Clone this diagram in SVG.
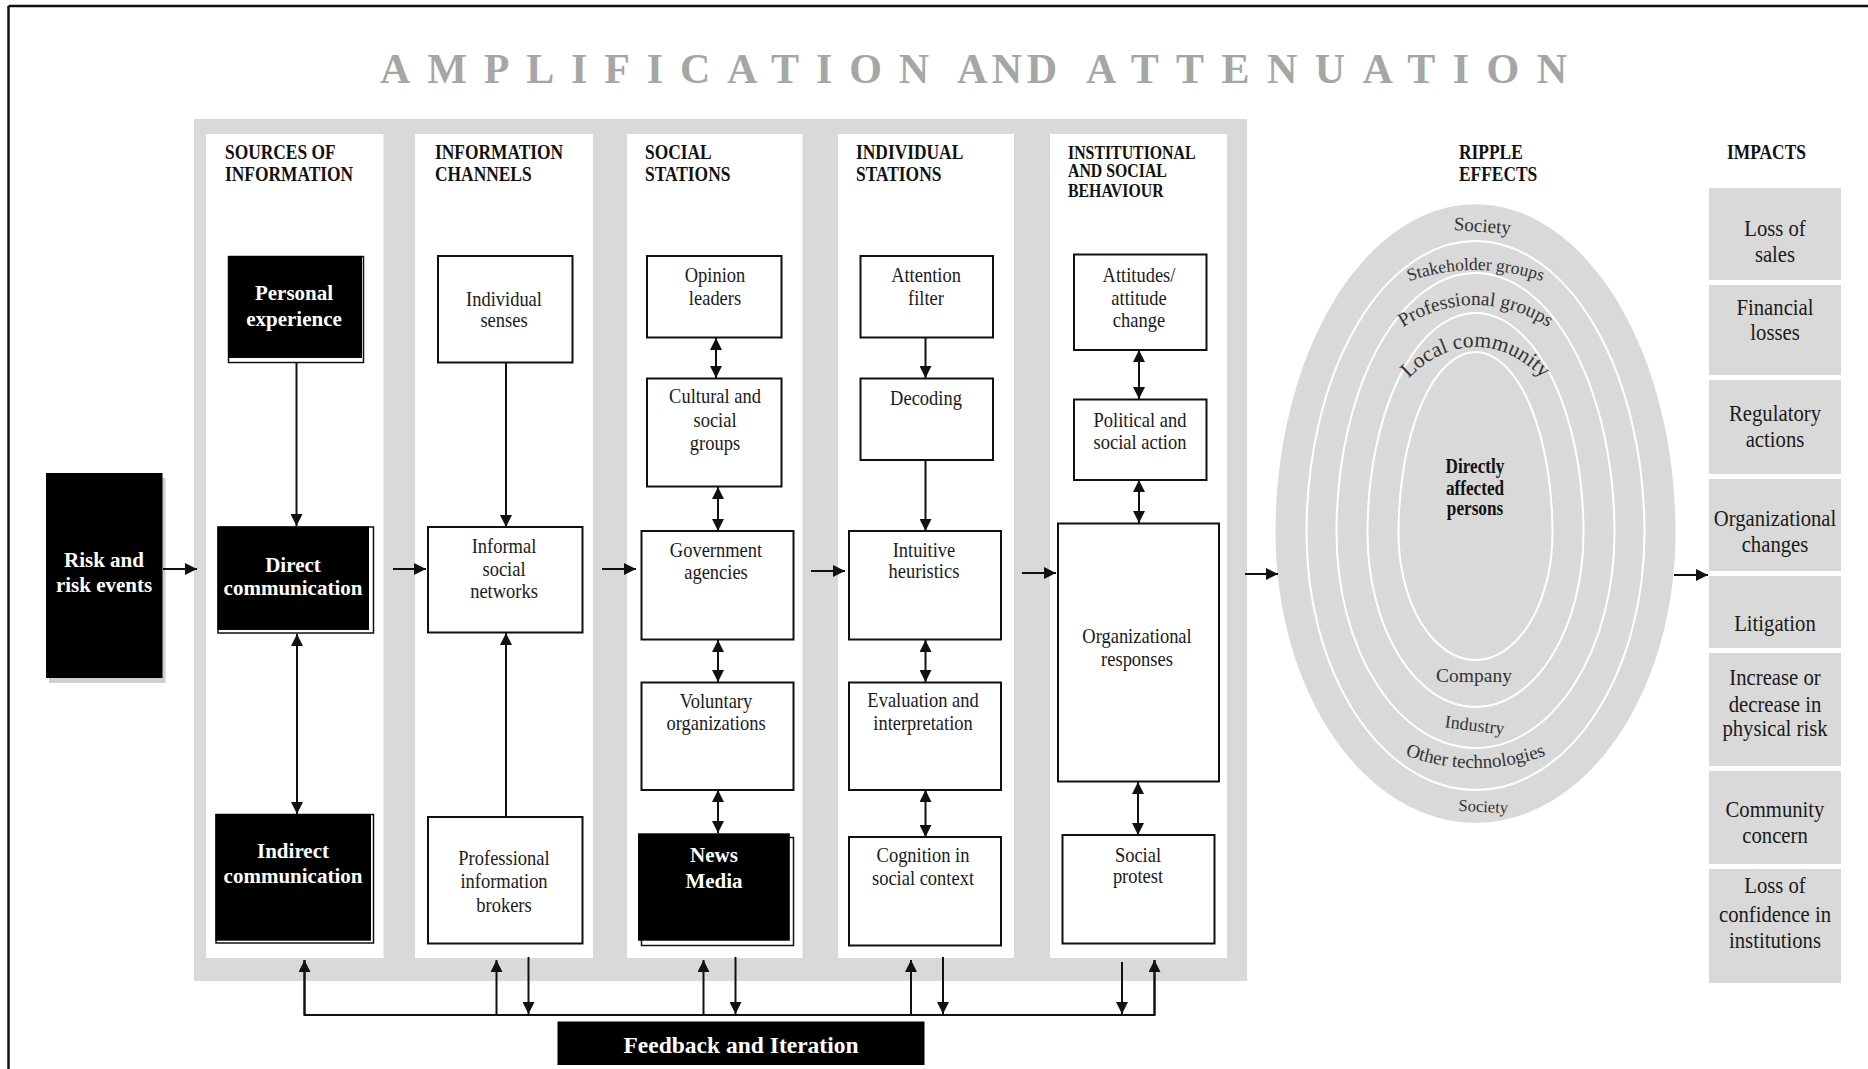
<svg xmlns="http://www.w3.org/2000/svg" width="1868" height="1069" viewBox="0 0 1868 1069">
<style>
.t{font-family:"Liberation Serif","Times New Roman",serif}
.ttl{font-weight:bold;font-size:42px;fill:#a6a6a6}
.hd{font-weight:bold;font-size:20px;fill:#111}
.hs{font-weight:bold;font-size:18px;fill:#111}
.bx{font-size:21px;fill:#1a1a1a;text-anchor:middle}
.bk{font-weight:bold;font-size:21px;fill:#fff;text-anchor:middle}
.im{font-size:23px;fill:#1a1a1a;text-anchor:middle}
.rg{fill:#333;text-anchor:middle}
.dp{font-weight:bold;font-size:20px;fill:#111;text-anchor:middle}
.wb{fill:#fff;stroke:#111;stroke-width:2}
.ol{fill:#fff;stroke:#111;stroke-width:1.5}
.blk{fill:#000}
.ib{fill:#d9d9d9}
.ring{fill:none;stroke:#fff;stroke-width:2}
</style>
<defs>
<marker id="ah" viewBox="0 0 10 10" refX="10" refY="5" markerWidth="12" markerHeight="12" markerUnits="userSpaceOnUse" orient="auto-start-reverse"><path d="M0,0 L10,5 L0,10 z" fill="#111"/></marker>
<path id="pStk" d="M1245.5,533 A230,263 0 0 1 1705.5,533"/>
<path id="pPro" d="M1306.5,533 A169,228 0 0 1 1644.5,533"/>
<path id="pLoc" d="M1355.5,533 A120,186 0 0 1 1595.5,533"/>
<path id="pOth" d="M1259.5,533 A216,235 0 0 0 1691.5,533"/>
</defs>
<rect width="1868" height="1069" fill="#fff"/>
<g id="frame" stroke="#111" stroke-width="2.5">
<line x1="8.5" y1="6" x2="1868" y2="6"/>
<line x1="8.5" y1="6" x2="8.5" y2="1069"/>
</g>
<g id="title" class="t">
<text class="t ttl" x="380" y="83" textLength="549" lengthAdjust="spacing">AMPLIFICATION</text>
<text class="t ttl" x="957" y="83" textLength="100" lengthAdjust="spacing">AND</text>
<text class="t ttl" x="1086" y="83" textLength="481" lengthAdjust="spacing">ATTENUATION</text>
</g>
<g id="panel">
<rect x="194" y="119" width="1053" height="862" fill="#d9d9d9"/>
<rect x="206" y="134" width="177.5" height="824" fill="#fff"/>
<rect x="415" y="134" width="178" height="824" fill="#fff"/>
<rect x="627" y="134" width="175.5" height="824" fill="#fff"/>
<rect x="838" y="134" width="176" height="824" fill="#fff"/>
<rect x="1050" y="134" width="177" height="824" fill="#fff"/>
</g>
<g id="headers">
<text class="t hd" transform="matrix(.87 0 0 1 225 0)"><tspan x="0" y="159">SOURCES OF</tspan><tspan x="0" y="181">INFORMATION</tspan></text>
<text class="t hd" transform="matrix(.87 0 0 1 435 0)"><tspan x="0" y="159">INFORMATION</tspan><tspan x="0" y="181">CHANNELS</tspan></text>
<text class="t hd" transform="matrix(.87 0 0 1 645 0)"><tspan x="0" y="159">SOCIAL</tspan><tspan x="0" y="181">STATIONS</tspan></text>
<text class="t hd" transform="matrix(.87 0 0 1 856 0)"><tspan x="0" y="159">INDIVIDUAL</tspan><tspan x="0" y="181">STATIONS</tspan></text>
<text class="t hs" transform="matrix(.88 0 0 1 1068 0)"><tspan x="0" y="159">INSTITUTIONAL</tspan><tspan x="0" y="177">AND SOCIAL</tspan><tspan x="0" y="197">BEHAVIOUR</tspan></text>
<text class="t hd" transform="matrix(.87 0 0 1 1459 0)"><tspan x="0" y="159">RIPPLE</tspan><tspan x="0" y="181">EFFECTS</tspan></text>
<text class="t hd" transform="matrix(.87 0 0 1 1727 0)"><tspan x="0" y="159">IMPACTS</tspan></text>
</g>
<g id="risk">
<rect x="49" y="478" width="116.5" height="205" fill="#cfcfcf"/>
<rect class="blk" x="46" y="473" width="116.5" height="205"/>
<text class="t bk"><tspan x="104" y="567">Risk and</tspan><tspan x="104" y="592">risk events</tspan></text>
</g>
<g id="personal">
<rect class="ol" x="228.5" y="256.5" width="135" height="106"/>
<rect class="blk" x="228" y="256" width="134" height="102"/>
<text class="t bk"><tspan x="294" y="300">Personal</tspan><tspan x="294" y="326">experience</tspan></text>
</g>
<g id="direct">
<rect class="ol" x="218" y="527" width="155.5" height="106"/>
<rect class="blk" x="217.5" y="526.5" width="151.5" height="103.5"/>
<text class="t bk"><tspan x="293" y="572">Direct</tspan><tspan x="293" y="595">communication</tspan></text>
</g>
<g id="indirect">
<rect class="ol" x="216" y="814.5" width="157.5" height="128.5"/>
<rect class="blk" x="215.5" y="814" width="155.5" height="126.7"/>
<text class="t bk"><tspan x="293" y="858">Indirect</tspan><tspan x="293" y="883">communication</tspan></text>
</g>
<g id="senses">
<rect class="wb" x="438" y="256" width="134.5" height="106.5"/>
<text class="t bx" transform="matrix(.88 0 0 1 504 0)"><tspan x="0" y="306">Individual</tspan><tspan x="0" y="327">senses</tspan></text>
</g>
<g id="informal">
<rect class="wb" x="428" y="527" width="154.5" height="105.5"/>
<text class="t bx" transform="matrix(.88 0 0 1 504 0)"><tspan x="0" y="553">Informal</tspan><tspan x="0" y="576">social</tspan><tspan x="0" y="598">networks</tspan></text>
</g>
<g id="brokers">
<rect class="wb" x="428" y="817" width="154.5" height="126.5"/>
<text class="t bx" transform="matrix(.88 0 0 1 504 0)"><tspan x="0" y="865">Professional</tspan><tspan x="0" y="888">information</tspan><tspan x="0" y="912">brokers</tspan></text>
</g>
<g id="opinion">
<rect class="wb" x="647" y="256" width="134.5" height="81.5"/>
<text class="t bx" transform="matrix(.88 0 0 1 715 0)"><tspan x="0" y="282">Opinion</tspan><tspan x="0" y="305">leaders</tspan></text>
</g>
<g id="cultural">
<rect class="wb" x="647" y="378.5" width="134.5" height="108"/>
<text class="t bx" transform="matrix(.88 0 0 1 715 0)"><tspan x="0" y="403">Cultural and</tspan><tspan x="0" y="427">social</tspan><tspan x="0" y="450">groups</tspan></text>
</g>
<g id="government">
<rect class="wb" x="641.5" y="531" width="152" height="108.5"/>
<text class="t bx" transform="matrix(.88 0 0 1 716 0)"><tspan x="0" y="557">Government</tspan><tspan x="0" y="579">agencies</tspan></text>
</g>
<g id="voluntary">
<rect class="wb" x="641.5" y="682.5" width="152" height="107.5"/>
<text class="t bx" transform="matrix(.88 0 0 1 716 0)"><tspan x="0" y="708">Voluntary</tspan><tspan x="0" y="730">organizations</tspan></text>
</g>
<g id="news">
<rect class="ol" x="641.5" y="837.5" width="152" height="108"/>
<rect class="blk" x="638" y="833.3" width="151.8" height="107.4"/>
<text class="t bk"><tspan x="714" y="862">News</tspan><tspan x="714" y="888">Media</tspan></text>
</g>
<g id="attention">
<rect class="wb" x="860.5" y="256" width="132.5" height="81.5"/>
<text class="t bx" transform="matrix(.88 0 0 1 926 0)"><tspan x="0" y="282">Attention</tspan><tspan x="0" y="305">filter</tspan></text>
</g>
<g id="decoding">
<rect class="wb" x="860.5" y="378.5" width="132.5" height="81.5"/>
<text class="t bx" transform="matrix(.88 0 0 1 926 0)"><tspan x="0" y="405">Decoding</tspan></text>
</g>
<g id="intuitive">
<rect class="wb" x="849" y="531" width="152" height="108.5"/>
<text class="t bx" transform="matrix(.88 0 0 1 924 0)"><tspan x="0" y="557">Intuitive</tspan><tspan x="0" y="578">heuristics</tspan></text>
</g>
<g id="evaluation">
<rect class="wb" x="849" y="682.5" width="152" height="107.5"/>
<text class="t bx" transform="matrix(.88 0 0 1 923 0)"><tspan x="0" y="707">Evaluation and</tspan><tspan x="0" y="730">interpretation</tspan></text>
</g>
<g id="cognition">
<rect class="wb" x="849" y="837" width="152" height="108.5"/>
<text class="t bx" transform="matrix(.88 0 0 1 923 0)"><tspan x="0" y="862">Cognition in</tspan><tspan x="0" y="885">social context</tspan></text>
</g>
<g id="attitudes">
<rect class="wb" x="1074" y="254.5" width="132.5" height="95.5"/>
<text class="t bx" transform="matrix(.88 0 0 1 1139 0)"><tspan x="0" y="282">Attitudes/</tspan><tspan x="0" y="305">attitude</tspan><tspan x="0" y="327">change</tspan></text>
</g>
<g id="political">
<rect class="wb" x="1074" y="399.5" width="132.5" height="80.5"/>
<text class="t bx" transform="matrix(.88 0 0 1 1140 0)"><tspan x="0" y="427">Political and</tspan><tspan x="0" y="449">social action</tspan></text>
</g>
<g id="organizational">
<rect class="wb" x="1058" y="523.5" width="161" height="258"/>
<text class="t bx" transform="matrix(.88 0 0 1 1137 0)"><tspan x="0" y="643">Organizational</tspan><tspan x="0" y="666">responses</tspan></text>
</g>
<g id="protest">
<rect class="wb" x="1062.5" y="835" width="152" height="108.5"/>
<text class="t bx" transform="matrix(.88 0 0 1 1138 0)"><tspan x="0" y="862">Social</tspan><tspan x="0" y="883">protest</tspan></text>
</g>
<g id="ripple">
<path d="M1275.5,533 A200,329 0 0 1 1675.5,533 A200,290 0 0 1 1275.5,533Z" fill="#d9d9d9"/>
<path class="ring" d="M1306.5,533 A169,292 0 0 1 1644.5,533 A169,257 0 0 1 1306.5,533Z"/>
<path class="ring" d="M1336.5,533 A139,260 0 0 1 1614.5,533 A139,215 0 0 1 1336.5,533Z"/>
<path class="ring" d="M1367.5,533 A108,220 0 0 1 1583.5,533 A108,174 0 0 1 1367.5,533Z"/>
<path class="ring" d="M1398.5,533 A77,181 0 0 1 1552.5,533 A77,127 0 0 1 1398.5,533Z"/>
<text class="t rg" font-size="19" transform="rotate(4 1482 232)" x="1482" y="232">Society</text>
<text class="t rg" font-size="17.5"><textPath href="#pStk" startOffset="50%">Stakeholder groups</textPath></text>
<text class="t rg" font-size="19.5"><textPath href="#pPro" startOffset="50%">Professional groups</textPath></text>
<text class="t rg" font-size="21.5"><textPath href="#pLoc" startOffset="50%">Local community</textPath></text>
<text class="t dp" transform="matrix(.86 0 0 1 1475 0)"><tspan x="0" y="473">Directly</tspan><tspan x="0" y="495">affected</tspan><tspan x="0" y="515">persons</tspan></text>
<text class="t rg" font-size="19.5" x="1474" y="682">Company</text>
<text class="t rg" font-size="18" transform="rotate(7 1474 731)" x="1474" y="731">Industry</text>
<text class="t rg" font-size="19"><textPath href="#pOth" startOffset="50%">Other technologies</textPath></text>
<text class="t rg" font-size="16.5" transform="rotate(3 1483 812)" x="1483" y="812">Society</text>
</g>
<g id="impacts">
<rect class="ib" x="1709" y="188" width="132" height="92"/>
<rect class="ib" x="1709" y="285" width="132" height="90"/>
<rect class="ib" x="1709" y="380" width="132" height="94"/>
<rect class="ib" x="1709" y="479" width="132" height="92"/>
<rect class="ib" x="1709" y="576" width="132" height="72"/>
<rect class="ib" x="1709" y="653" width="132" height="113"/>
<rect class="ib" x="1709" y="771" width="132" height="93"/>
<rect class="ib" x="1709" y="869" width="132" height="114"/>
<text class="t im" transform="matrix(.9 0 0 1 1775 0)"><tspan x="0" y="236">Loss of</tspan><tspan x="0" y="262">sales</tspan><tspan x="0" y="315">Financial</tspan><tspan x="0" y="340">losses</tspan><tspan x="0" y="421">Regulatory</tspan><tspan x="0" y="447">actions</tspan><tspan x="0" y="526">Organizational</tspan><tspan x="0" y="552">changes</tspan><tspan x="0" y="631">Litigation</tspan><tspan x="0" y="685">Increase or</tspan><tspan x="0" y="712">decrease in</tspan><tspan x="0" y="736">physical risk</tspan><tspan x="0" y="817">Community</tspan><tspan x="0" y="843">concern</tspan><tspan x="0" y="893">Loss of</tspan><tspan x="0" y="922">confidence in</tspan><tspan x="0" y="948">institutions</tspan></text>
</g>
<g id="feedback">
<rect class="blk" x="557.5" y="1021.5" width="367" height="43.5"/>
<text class="t" x="741" y="1053" font-weight="bold" font-size="23.5" fill="#fff" text-anchor="middle">Feedback and Iteration</text>
</g>
<g id="connectors" stroke="#111" stroke-width="2" fill="none">
<line x1="163" y1="569" x2="197" y2="569" marker-end="url(#ah)"/>
<line x1="393" y1="569" x2="426" y2="569" marker-end="url(#ah)"/>
<line x1="602" y1="569" x2="636" y2="569" marker-end="url(#ah)"/>
<line x1="811" y1="571" x2="845" y2="571" marker-end="url(#ah)"/>
<line x1="1022" y1="573" x2="1056" y2="573" marker-end="url(#ah)"/>
<line x1="1245" y1="574" x2="1278" y2="574" marker-end="url(#ah)"/>
<line x1="1674" y1="575" x2="1708" y2="575" marker-end="url(#ah)"/>
<line x1="296.5" y1="363" x2="296.5" y2="526" marker-end="url(#ah)"/>
<line x1="297" y1="634" x2="297" y2="814" marker-start="url(#ah)" marker-end="url(#ah)"/>
<line x1="506" y1="363" x2="506" y2="527" marker-end="url(#ah)"/>
<line x1="506" y1="817" x2="506" y2="633" marker-end="url(#ah)"/>
<line x1="716" y1="338" x2="716" y2="378" marker-start="url(#ah)" marker-end="url(#ah)"/>
<line x1="718" y1="487" x2="718" y2="531" marker-start="url(#ah)" marker-end="url(#ah)"/>
<line x1="718" y1="640" x2="718" y2="682" marker-start="url(#ah)" marker-end="url(#ah)"/>
<line x1="718" y1="790" x2="718" y2="833" marker-start="url(#ah)" marker-end="url(#ah)"/>
<line x1="925.5" y1="338" x2="925.5" y2="378" marker-end="url(#ah)"/>
<line x1="925.5" y1="460" x2="925.5" y2="531" marker-end="url(#ah)"/>
<line x1="925.5" y1="640" x2="925.5" y2="682" marker-start="url(#ah)" marker-end="url(#ah)"/>
<line x1="925.5" y1="790" x2="925.5" y2="837" marker-start="url(#ah)" marker-end="url(#ah)"/>
<line x1="1139" y1="350" x2="1139" y2="399" marker-start="url(#ah)" marker-end="url(#ah)"/>
<line x1="1139" y1="480" x2="1139" y2="523" marker-start="url(#ah)" marker-end="url(#ah)"/>
<line x1="1138" y1="782" x2="1138" y2="835" marker-start="url(#ah)" marker-end="url(#ah)"/>
<polyline points="304.5,960 304.5,1015 1154.5,1015 1154.5,960"/>
<line x1="304.5" y1="1015" x2="304.5" y2="960" marker-end="url(#ah)"/>
<line x1="496.5" y1="1015" x2="496.5" y2="960" marker-end="url(#ah)"/>
<line x1="703.5" y1="1015" x2="703.5" y2="960" marker-end="url(#ah)"/>
<line x1="911" y1="1015" x2="911" y2="960" marker-end="url(#ah)"/>
<line x1="1154.5" y1="1015" x2="1154.5" y2="960" marker-end="url(#ah)"/>
<line x1="528.5" y1="957" x2="528.5" y2="1014" marker-end="url(#ah)"/>
<line x1="735.5" y1="957" x2="735.5" y2="1014" marker-end="url(#ah)"/>
<line x1="943" y1="957" x2="943" y2="1014" marker-end="url(#ah)"/>
<line x1="1122" y1="962" x2="1122" y2="1014" marker-end="url(#ah)"/>
</g>
</svg>
